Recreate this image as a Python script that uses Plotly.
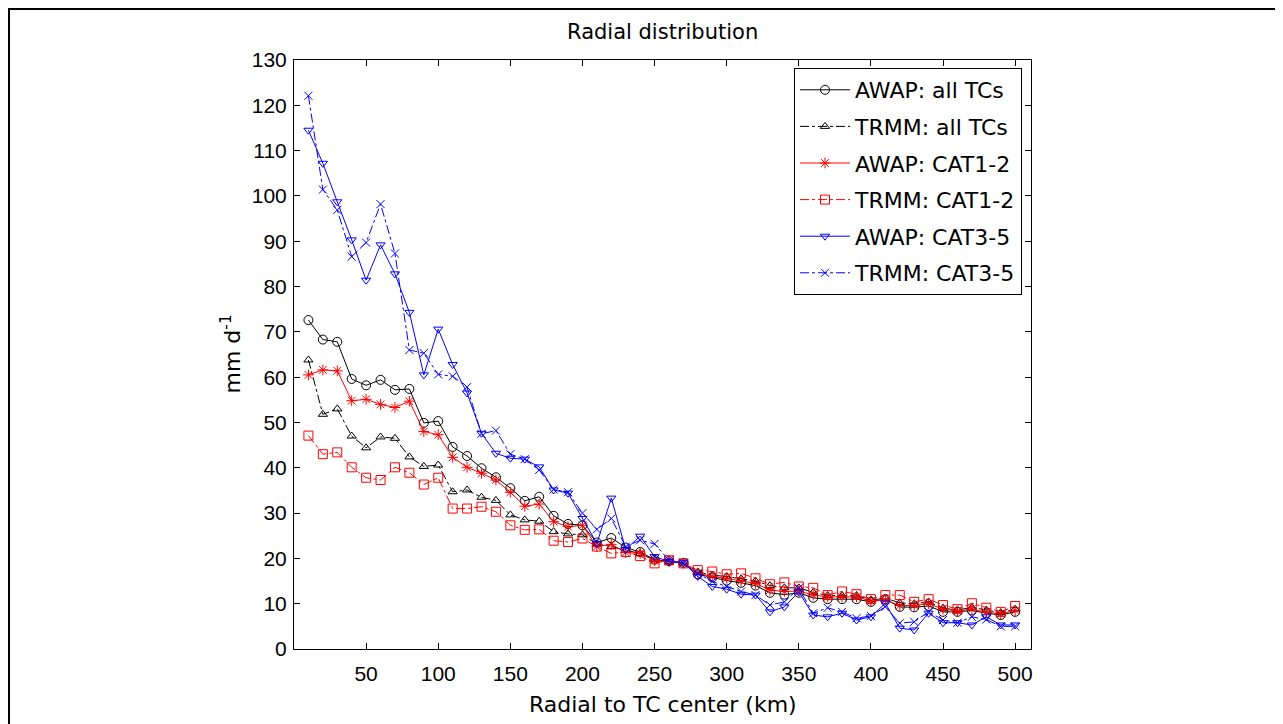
import plotly.graph_objects as go

radius = list(range(10, 510, 10))

awap_all = [72.6, 68.3, 67.8, 59.6, 58.2, 59.4, 57.2, 57.4, 49.9, 50.3,
            44.6, 42.6, 39.9, 37.9, 35.5, 32.7, 33.6, 29.4, 27.6, 27.3,
            23.5, 24.5, 22.4, 21.4, 19.7, 19.4, 19.0, 16.5, 15.8, 15.1,
            14.6, 14.0, 12.4, 12.0, 12.4, 11.3, 11.0, 11.0, 11.0, 10.4,
            11.0, 9.3, 9.2, 9.5, 8.2, 8.2, 8.5, 7.9, 7.5, 8.2]
trmm_all = [63.8, 51.8, 53.0, 47.0, 44.4, 46.8, 46.5, 42.4, 40.3, 40.6,
            34.7, 35.1, 33.5, 32.8, 29.6, 28.5, 28.2, 25.9, 25.4, 25.2,
            23.2, 22.6, 21.8, 21.1, 19.7, 19.3, 19.0, 17.0, 16.3, 16.0,
            15.5, 15.0, 14.0, 13.5, 13.5, 12.5, 11.8, 11.8, 11.8, 10.8,
            11.2, 10.2, 10.0, 10.4, 9.0, 8.6, 9.2, 8.6, 8.0, 8.8]
awap_cat12 = [60.5, 61.6, 61.4, 54.8, 55.1, 54.0, 53.3, 54.7, 48.0, 47.3,
              42.3, 40.1, 38.8, 37.3, 34.6, 31.5, 32.0, 28.1, 27.0, 27.3,
              22.6, 23.1, 21.3, 21.1, 19.5, 19.3, 18.9, 16.7, 16.0, 15.6,
              15.0, 14.5, 13.0, 12.7, 12.8, 11.9, 11.5, 11.5, 11.5, 10.6,
              10.8, 9.6, 9.6, 10.0, 8.8, 8.4, 8.8, 8.1, 7.8, 8.5]
trmm_cat12 = [47.1, 43.0, 43.4, 40.1, 37.8, 37.3, 40.1, 38.9, 36.3, 37.8,
              31.0, 31.0, 31.4, 30.3, 27.3, 26.3, 26.4, 23.9, 23.6, 24.4,
              22.6, 21.1, 21.4, 20.5, 18.9, 19.6, 18.9, 17.4, 17.1, 16.5,
              16.7, 15.6, 14.3, 14.7, 13.8, 13.5, 11.9, 12.7, 12.1, 11.0,
              11.9, 11.9, 10.4, 11.0, 9.7, 8.8, 10.1, 9.1, 8.2, 9.5]
awap_cat35 = [114.5, 107.2, 98.7, 90.3, 81.4, 89.2, 82.8, 74.3, 60.5, 70.6,
              62.8, 56.5, 47.6, 43.2, 42.1, 41.9, 40.2, 35.1, 34.4, 28.8,
              23.3, 33.3, 22.0, 24.9, 20.4, 19.3, 19.0, 16.0, 13.8, 13.2,
              12.1, 11.9, 8.2, 9.3, 12.6, 7.5, 7.1, 7.9, 6.4, 7.1,
              10.1, 4.6, 4.2, 7.9, 5.8, 5.8, 5.3, 7.1, 5.3, 5.3]
trmm_cat35 = [122.1, 101.4, 96.9, 86.6, 89.7, 98.2, 87.3, 66.0, 65.3, 60.6,
              60.2, 57.8, 47.5, 48.2, 43.0, 41.9, 39.5, 35.2, 34.6, 30.0,
              26.4, 28.8, 22.6, 24.0, 23.2, 19.6, 19.0, 16.7, 14.9, 13.8,
              12.7, 11.9, 9.7, 10.4, 13.4, 7.9, 9.1, 8.2, 6.8, 7.3,
              9.3, 5.7, 6.0, 8.2, 6.4, 5.8, 7.1, 6.5, 5.0, 5.0]

series_names = ["AWAP: all TCs", "TRMM: all TCs", "AWAP: CAT1-2",
                "TRMM: CAT1-2", "AWAP: CAT3-5", "TRMM: CAT3-5"]
series_values = [awap_all, trmm_all, awap_cat12, trmm_cat12, awap_cat35, trmm_cat35]
series_colors = ["black", "black", "red", "red", "blue", "blue"]
series_dash = ["solid", "dashdot", "solid", "dashdot", "solid", "dashdot"]
series_symbols = ["circle-open", "triangle-up-open", "asterisk-open",
                  "square-open", "triangle-down-open", "x-thin-open"]
series_sizes = [9, 8, 9, 9, 8, 8]

x_ticks = list(range(50, 501, 50))
y_ticks = list(range(0, 131, 10))

fig = go.Figure()
for i, (nm, vals) in enumerate(zip(series_names, series_values)):
    fig.add_trace(go.Scatter(
        x=radius, y=vals, name=nm, mode="lines+markers",
        legendgroup=f"g{i}",
        line=dict(color=series_colors[i], width=1, dash=series_dash[i]),
        marker=dict(symbol=series_symbols[i], size=series_sizes[i],
                    color=series_colors[i],
                    line=dict(color=series_colors[i], width=1)),
    ))

# page offset: the html body has an 8px margin
OFF = 8
W, H = 1283 - OFF, 724 - OFF
L, T = 294 - OFF, 60 - OFF
R = W - (1031 - OFF)
B = H - (649 - OFF)
pw, ph = W - L - R, H - T - B

def px_to_paper_x(px):
    return (px - OFF - L) / pw

def px_to_paper_y(py):
    return (H - B - (py - OFF)) / ph

axis_common = dict(showline=True, linecolor="black", linewidth=1, mirror="ticks",
                   ticks="inside", ticklen=6, tickcolor="black", showgrid=False,
                   zeroline=False,
                   tickfont=dict(family="Liberation Sans", size=21, color="black"))

fig.update_layout(
    width=W, height=H,
    margin=dict(l=L, r=R, t=T, b=B, autoexpand=False),
    paper_bgcolor="white", plot_bgcolor="white",
    showlegend=True,
    legend=dict(x=px_to_paper_x(794), y=px_to_paper_y(68), xanchor="left", yanchor="top",
                bgcolor="white", bordercolor="black", borderwidth=1,
                font=dict(family="DejaVu Sans", size=22, color="black"),
                tracegroupgap=5, itemwidth=50),
    xaxis=dict(range=[0, 511], tickvals=x_ticks, ticklabelstandoff=6, **axis_common),
    yaxis=dict(range=[0, 130], tickvals=y_ticks, ticklabelstandoff=2, **axis_common),
    annotations=[
        dict(text="Radial distribution", xref="paper", yref="paper",
             x=0.5, y=px_to_paper_y(32), xanchor="center", yanchor="middle",
             showarrow=False, font=dict(family="DejaVu Sans", size=21, color="black")),
        dict(text="Radial to TC center (km)", xref="paper", yref="paper",
             x=0.5, y=px_to_paper_y(704), xanchor="center", yanchor="middle",
             showarrow=False, font=dict(family="DejaVu Sans", size=22, color="black")),
        dict(text="mm d<sup>-1</sup>", xref="paper", yref="paper",
             x=px_to_paper_x(230), y=0.5, xanchor="center", yanchor="middle",
             textangle=-90, showarrow=False,
             font=dict(family="DejaVu Sans", size=22, color="black")),
    ],
    shapes=[dict(type="rect", xref="paper", yref="paper",
                 x0=px_to_paper_x(9), x1=px_to_paper_x(1277),
                 y0=px_to_paper_y(730), y1=px_to_paper_y(9),
                 line=dict(color="black", width=2), fillcolor="rgba(0,0,0,0)")],
)

fig.write_html("out.html")
